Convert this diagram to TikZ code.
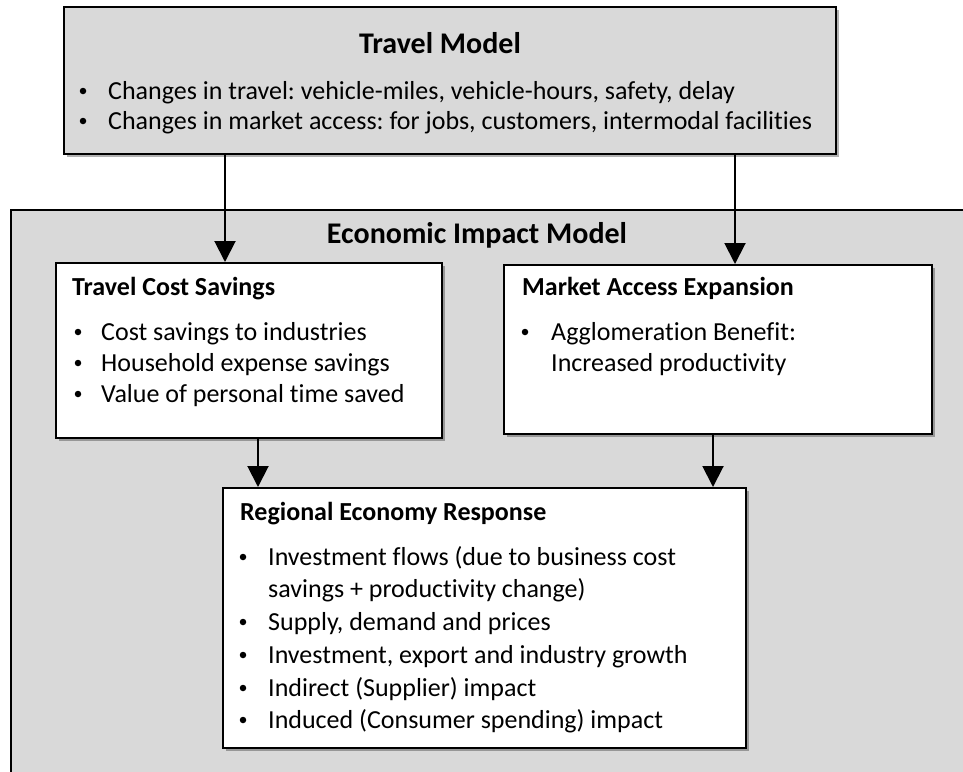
\documentclass[tikz,border=0pt]{standalone}
\usepackage{fontspec}
\setmainfont{Carlito}[Ligatures=NoCommon]
\frenchspacing
\usetikzlibrary{arrows.meta,shadows}
\definecolor{panel}{HTML}{D9D9D9}
\tikzset{
  frame/.style={draw=black,line width=1.6pt,fill=white,anchor=north west,inner sep=0pt},
  box/.style={frame,drop shadow={shadow xshift=3pt,shadow yshift=-3pt,fill=black,opacity=0.3}},
  txt/.style={anchor=base west,inner sep=0pt,font=\fontsize{26}{31}\selectfont},
  hd/.style={anchor=base west,inner sep=0pt,font=\fontsize{26}{31}\selectfont\bfseries},
  big/.style={anchor=base,inner sep=0pt,font=\fontsize{30}{36}\selectfont\bfseries},
  dot/.style={circle,fill=black,inner sep=0pt,minimum size=6.5pt},
  arr/.style={line width=2pt,-{Triangle[width=21pt,length=21pt]}}
}

\begin{document}
\begin{tikzpicture}[x=1pt,y=-1pt]
  \useasboundingbox (0,0) rectangle (963,771);
  \clip (0,0) rectangle (963,771);
  \fill[white] (0,0) rectangle (963,771);
  \node[frame,fill=panel,minimum width=1000pt,minimum height=600pt] (econ) at (10,209) {};
  \node[box,fill=panel,minimum width=772pt,minimum height=147pt] (travel) at (63,6) {};
  \node[box,minimum width=386pt,minimum height=175pt] (tcs) at (55,262) {};
  \node[box,minimum width=428pt,minimum height=169pt] (mae) at (503,264) {};
  \node[box,minimum width=523pt,minimum height=260pt] (rer) at (222,487) {};

  \node[big] (travel-title) at (440,53) {Travel Model};
  \foreach \y/\t in {99/{Changes in travel: vehicle-miles, vehicle-hours, safety, delay},
                     129/{Changes in market access: for jobs, customers, intermodal facilities}}
    {\node[dot] (travel-dot-\y) at (83,\y-8) {};
     \node[txt] (travel-\y) at (108,\y) {\t};}

  \node[big] (econ-title) at (477,243) {Economic Impact Model};

  \node[hd] (tcs-title) at (72,295) {Travel Cost Savings};
  \foreach \y/\t in {340/{Cost savings to industries},371/{Household expense savings},402/{Value of personal time saved}}
    {\node[dot] (tcs-dot-\y) at (78,\y-8) {};
     \node[txt] (tcs-\y) at (101,\y) {\t};}

  \node[hd] (mae-title) at (522,295) {Market Access Expansion};
  \node[dot] (mae-dot) at (525,332) {};
  \node[txt] (mae-340) at (551,340) {Agglomeration Benefit:};
  \node[txt] (mae-371) at (551,371) {Increased productivity};

  \node[hd] (rer-title) at (240,520) {Regional Economy Response};
  \node[txt] (rer-597) at (268,597) {savings + productivity change)};
  \foreach \y/\t in {565/{Investment flows (due to business cost},630/{Supply, demand and prices},
                     663/{Investment, export and industry growth},696/{Indirect (Supplier) impact},
                     728/{Induced (Consumer spending) impact}}
    {\node[dot] (rer-dot-\y) at (243,\y-8) {};
     \node[txt] (rer-\y) at (268,\y) {\t};}

  \draw[arr] ([xshift=162pt]travel.south west) -- ([xshift=170pt]tcs.north west);
  \draw[arr] ([xshift=672pt]travel.south west) -- ([xshift=232pt]mae.north west);
  \draw[arr] ([xshift=203pt]tcs.south west) -- ([xshift=36pt]rer.north west);
  \draw[arr] ([xshift=210pt]mae.south west) -- ([xshift=491pt]rer.north west);
\end{tikzpicture}
\end{document}
